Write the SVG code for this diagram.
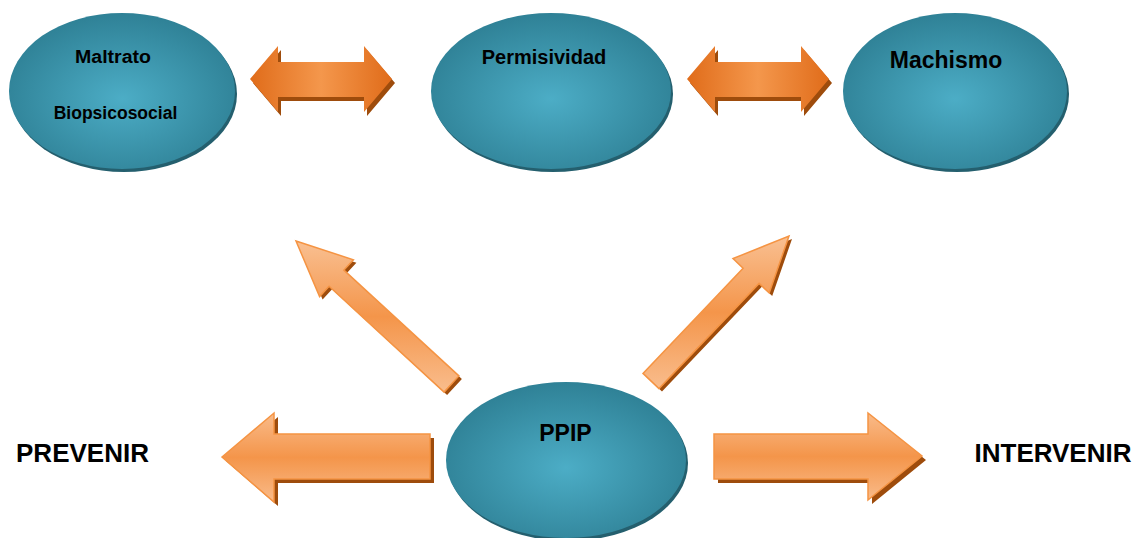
<svg xmlns="http://www.w3.org/2000/svg" width="1139" height="538" viewBox="0 0 1139 538">
<defs>
<radialGradient id="gEll" cx="0.5" cy="0.55" r="0.55">
<stop offset="0" stop-color="#4cadc6"/>
<stop offset="1" stop-color="#2f8196"/>
</radialGradient>
<linearGradient id="gDbl" x1="0" y1="0" x2="1" y2="0">
<stop offset="0" stop-color="#e06c1a"/>
<stop offset="0.5" stop-color="#f4974c"/>
<stop offset="1" stop-color="#e06c1a"/>
</linearGradient>
<linearGradient id="gHor" x1="0" y1="0" x2="0" y2="1">
<stop offset="0" stop-color="#f9bb8a"/>
<stop offset="0.5" stop-color="#f4954a"/>
<stop offset="1" stop-color="#f9bb8a"/>
</linearGradient>
<linearGradient id="gDiag" x1="0" y1="0" x2="0" y2="1">
<stop offset="0" stop-color="#f9c092"/>
<stop offset="0.5" stop-color="#f4954a"/>
<stop offset="1" stop-color="#f9bd8d"/>
</linearGradient>
</defs>
<style>
.ell{fill:url(#gEll)}
.esh{fill:#245f6e}
.sh{fill:#9e4c0c}
.dbl{fill:url(#gDbl)}
.hor{fill:url(#gHor);stroke:#f59443;stroke-width:1.5}
.diag{fill:url(#gDiag);stroke:#f59443;stroke-width:1.5}
.t{font-family:"Liberation Sans",Arial,sans-serif;font-weight:bold;fill:#000;text-anchor:middle}
</style>

<g id="connectors">
  <g id="arrow-maltrato-permisividad">
    <polygon class="sh" transform="translate(3,4)" points="250,79 278,46 278,62 364,62 364,46 392,79 364,112 364,97 278,97 278,112"/>
    <polygon class="dbl" points="250,79 278,46 278,62 364,62 364,46 392,79 364,112 364,97 278,97 278,112"/>
  </g>
  <g id="arrow-permisividad-machismo">
    <polygon class="sh" transform="translate(3,4)" points="687,79 715,46 715,62 801,62 801,46 829,79 801,112 801,97 715,97 715,112"/>
    <polygon class="dbl" points="687,79 715,46 715,62 801,62 801,46 829,79 801,112 801,97 715,97 715,112"/>
  </g>
  <g id="arrow-up-left">
    <polygon class="sh" transform="translate(3,3)" points="296,241 353.4,259.8 343.9,270.1 458.9,375.9 444.1,392.1 329.1,286.3 319.6,296.6"/>
    <polygon class="diag" points="296,241 353.4,259.8 343.9,270.1 458.9,375.9 444.1,392.1 329.1,286.3 319.6,296.6"/>
  </g>
  <g id="arrow-up-right">
    <polygon class="sh" transform="translate(3,3)" points="789,236 769.2,293 759.1,283.4 659,388.6 643,373.4 743.1,268.2 733,258.6"/>
    <polygon class="diag" points="789,236 769.2,293 759.1,283.4 659,388.6 643,373.4 743.1,268.2 733,258.6"/>
  </g>
  <g id="arrow-prevenir">
    <polygon class="sh" transform="translate(4,4)" points="222,457 274,413 274,434 430,434 430,479 274,479 274,502"/>
    <polygon class="hor" points="222,457 274,413 274,434 430,434 430,479 274,479 274,502"/>
  </g>
  <g id="arrow-intervenir">
    <polygon class="sh" transform="translate(4,4)" points="714,434 868,434 868,413 922,456 868,500 868,479 714,479"/>
    <polygon class="hor" points="714,434 868,434 868,413 922,456 868,500 868,479 714,479"/>
  </g>
</g>

<g id="node-maltrato">
  <ellipse class="esh" cx="124" cy="94" rx="113" ry="78"/>
  <ellipse class="ell" cx="122" cy="91" rx="113" ry="78"/>
  <text class="t" x="113" y="63" font-size="17.5" textLength="76" lengthAdjust="spacingAndGlyphs">Maltrato</text>
  <text class="t" x="115.5" y="119" font-size="17.5">Biopsicosocial</text>
</g>

<g id="node-permisividad">
  <ellipse class="esh" cx="553" cy="94" rx="120" ry="78"/>
  <ellipse class="ell" cx="551" cy="91" rx="120" ry="78"/>
  <text class="t" x="544" y="64" font-size="20">Permisividad</text>
</g>

<g id="node-machismo">
  <ellipse class="esh" cx="957" cy="94" rx="112" ry="78"/>
  <ellipse class="ell" cx="955" cy="91" rx="112" ry="78"/>
  <text class="t" x="946" y="68" font-size="23">Machismo</text>
</g>

<g id="node-ppip">
  <ellipse class="esh" cx="568" cy="463" rx="120" ry="78"/>
  <ellipse class="ell" cx="566" cy="460" rx="120" ry="78"/>
  <text class="t" x="565.5" y="441" font-size="23">PPIP</text>
</g>

<g id="label-prevenir">
  <text class="t" x="82.5" y="462" font-size="26">PREVENIR</text>
</g>
<g id="label-intervenir">
  <text class="t" x="1053" y="462" font-size="26">INTERVENIR</text>
</g>
</svg>
